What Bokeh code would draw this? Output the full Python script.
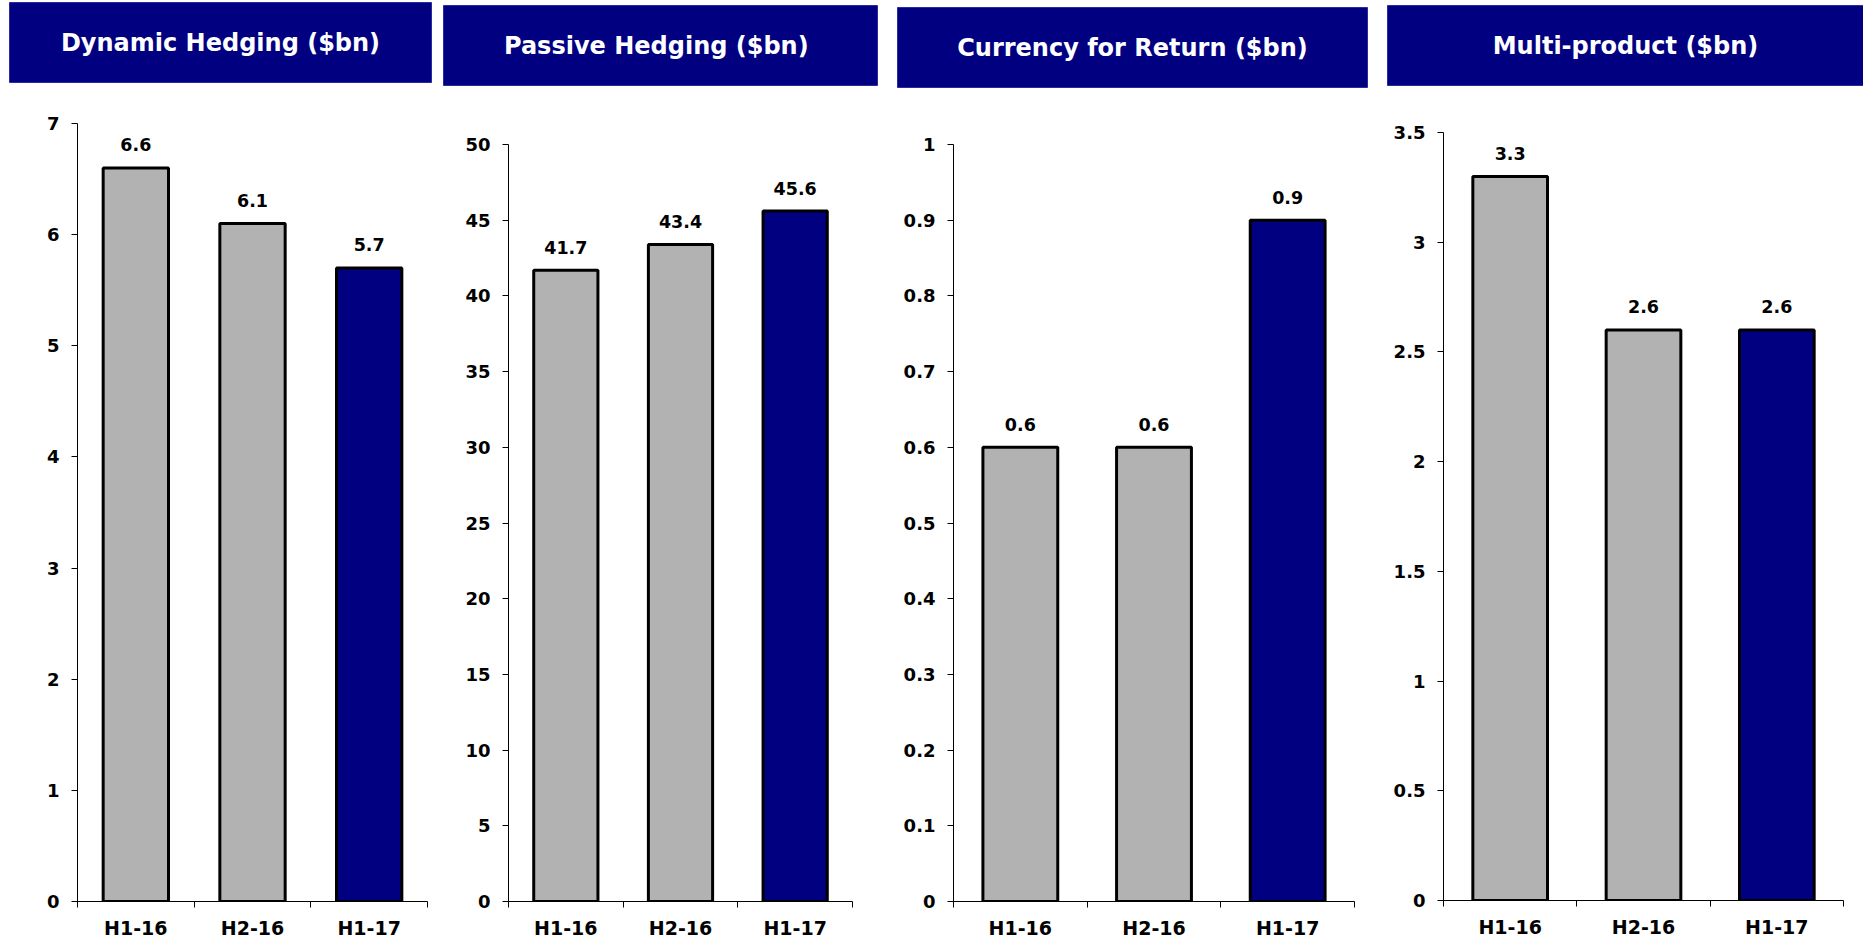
from bokeh.plotting import figure
from bokeh.models import (Range1d, FixedTicker, SingleIntervalTicker, CustomJSTickFormatter,
                          Spacer, ColumnDataSource)
from bokeh.layouts import row, column
from bokeh.core.properties import value
from bokeh.embed import file_html
from bokeh.resources import INLINE

# ---- data ----
categories = ["H1-16", "H2-16", "H1-17"]
dynamic_hedging = [6.6, 6.1, 5.7]
passive_hedging = [41.7, 43.4, 45.6]
currency_for_return = [0.6, 0.6, 0.9]
multi_product = [3.3, 2.6, 2.6]
bar_colors = ["#B2B2B2", "#B2B2B2", "#000080"]
titles = ["Dynamic Hedging ($bn)", "Passive Hedging  ($bn)",
          "Currency for Return ($bn)", "Multi-product ($bn)"]

FONT = "DejaVu Sans"
NAVY = "#000080"
PAGE_W = 1863
STRIP_H = 90

# ---- layout of the four panels (pixels) ----
panel_left = [9, 443, 897, 1387]
panel_width = [422, 434, 470, 476]
title_top = [2, 5, 7, 5]
title_h = 80
# border left, border right, border top, border bottom of each chart
borders = [(68, 4, 33, 40), (65, 25, 54, 38), (56, 13, 54, 38), (56, 20, 42, 41)]
CHART_H = 851


def chart_fig(values, ymax, step, w, h, bl, br, bt, bb):
    src = ColumnDataSource(dict(
        x=[i + 0.5 for i in range(len(categories))],
        top=values,
        color=bar_colors,
        label=[f"{v:.1f}" for v in values],
    ))
    p = figure(width=w, height=h, x_range=Range1d(0, len(categories)),
               y_range=Range1d(0, ymax), output_backend="svg", toolbar_location=None,
               min_border_left=bl, min_border_right=br, min_border_top=bt,
               min_border_bottom=bb, outline_line_color=None,
               background_fill_color="white", border_fill_color="white")
    p.grid.visible = False
    p.vbar(x="x", top="top", bottom=0, width=0.56, fill_color="color",
           line_color="black", line_width=3, source=src)
    p.text(x="x", y="top", text="label", text_align="center",
           text_baseline="alphabetic", y_offset=-23, text_font=value(FONT),
           text_font_style="bold", text_font_size="17.5px", text_color="black",
           source=src)

    ya = p.yaxis[0]
    ya.ticker = SingleIntervalTicker(interval=step, num_minor_ticks=0)
    ya.formatter = CustomJSTickFormatter(code="return String(Math.round(tick*100)/100);")
    ya.axis_line_color = "black"
    ya.axis_line_width = 1
    ya.major_tick_out = 6
    ya.major_tick_in = 0
    ya.major_tick_line_color = "black"
    ya.minor_tick_line_color = None
    ya.major_label_standoff = 12
    ya.major_label_text_font = FONT
    ya.major_label_text_font_style = "bold"
    ya.major_label_text_font_size = "18px"
    ya.major_label_text_color = "black"

    xa = p.xaxis[0]
    xa.ticker = FixedTicker(ticks=[i + 0.5 for i in range(len(categories))],
                            minor_ticks=list(range(len(categories) + 1)))
    xa.formatter = CustomJSTickFormatter(args=dict(cats=categories),
                                         code="return cats[Math.floor(tick)];")
    xa.axis_line_color = "black"
    xa.axis_line_width = 1
    xa.major_tick_line_color = None
    xa.major_tick_out = 0
    xa.major_tick_in = 0
    xa.minor_tick_line_color = "black"
    xa.minor_tick_out = 6
    xa.minor_tick_in = 0
    xa.major_label_standoff = 9
    xa.major_label_text_font = FONT
    xa.major_label_text_font_style = "bold"
    xa.major_label_text_font_size = "19px"
    xa.major_label_text_color = "black"
    return p


# ---- title strip (navy header boxes) ----
strip = figure(width=PAGE_W, height=STRIP_H, x_range=Range1d(0, PAGE_W),
               y_range=Range1d(STRIP_H, 0), output_backend="svg",
               toolbar_location=None, min_border=0,
               x_axis_location=None, y_axis_location=None,
               outline_line_color=None, background_fill_color="white",
               border_fill_color="white")
strip.grid.visible = False
box_src = ColumnDataSource(dict(
    left=panel_left,
    right=[l + w for l, w in zip(panel_left, panel_width)],
    top=title_top,
    bottom=[t + title_h for t in title_top],
    cx=[l + w / 2 for l, w in zip(panel_left, panel_width)],
    cy=[t + title_h / 2 for t in title_top],
    text=titles,
))
strip.quad(left="left", right="right", top="top", bottom="bottom", source=box_src,
           fill_color=NAVY, line_color="#2a2aa0", line_width=1)
strip.text(x="cx", y="cy", text="text", source=box_src, text_align="center",
           text_baseline="middle", text_color="white", text_font=value(FONT),
           text_font_style="bold", text_font_size="24px")

series = [(dynamic_hedging, 7, 1), (passive_hedging, 50, 5),
          (currency_for_return, 1, 0.1), (multi_product, 3.5, 0.5)]

kids = []
prev_right = 0
for i in range(4):
    vals, ymax, step = series[i]
    bl, br, bt, bb = borders[i]
    gap = panel_left[i] - prev_right
    if gap > 0:
        kids.append(Spacer(width=gap, height=CHART_H))
    # wrap each chart in its own column so the row does not align their frames
    kids.append(column(chart_fig(vals, ymax, step, panel_width[i], CHART_H,
                                 bl, br, bt, bb)))
    prev_right = panel_left[i] + panel_width[i]

layout = column(strip, row(*kids))

open("out.html", "w").write(file_html(layout, INLINE))
